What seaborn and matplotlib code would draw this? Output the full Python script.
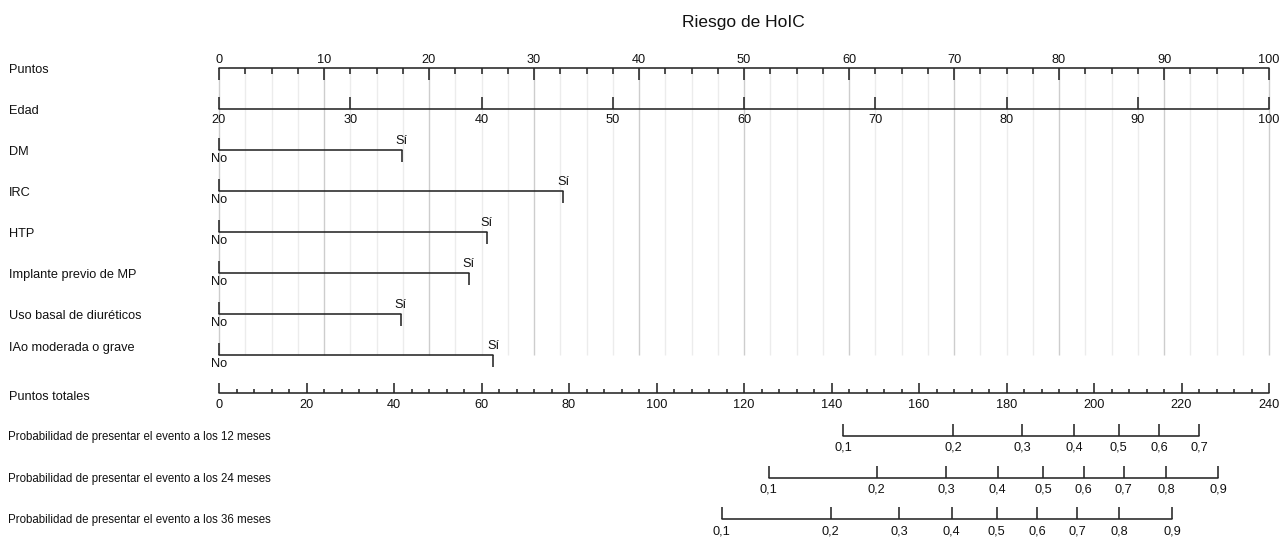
import numpy as np
import pandas as pd
import matplotlib
matplotlib.use("Agg")
import matplotlib.pyplot as plt
import seaborn as sns

# ---------------- data ----------------
title = "Riesgo de HoIC"
points_labels = [0, 10, 20, 30, 40, 50, 60, 70, 80, 90, 100]
points_minor_step = 2.5
age_labels = [20, 30, 40, 50, 60, 70, 80, 90, 100]
age_min, age_max = 20, 100
binary_vars = ["DM", "IRC", "HTP", "Implante previo de MP",
               "Uso basal de diuréticos", "IAo moderada o grave"]
binary_si_points = [17.4, 32.8, 25.5, 23.8, 17.3, 26.1]
total_labels = [0, 20, 40, 60, 80, 100, 120, 140, 160, 180, 200, 220, 240]
total_minor_step = 4
total_max = 240
prob_rows = ["Probabilidad de presentar el evento a los 12 meses",
             "Probabilidad de presentar el evento a los 24 meses",
             "Probabilidad de presentar el evento a los 36 meses"]
prob_12_labels = ["0,1", "0,2", "0,3", "0,4", "0,5", "0,6", "0,7"]
prob_12_total = [142.7, 167.8, 183.5, 195.4, 205.6, 214.9, 224.0]
prob_24_labels = ["0,1", "0,2", "0,3", "0,4", "0,5", "0,6", "0,7", "0,8", "0,9"]
prob_24_total = [125.6, 150.3, 166.2, 178.0, 188.4, 197.6, 206.8, 216.5, 228.4]
prob_36_labels = ["0,1", "0,2", "0,3", "0,4", "0,5", "0,6", "0,7", "0,8", "0,9"]
prob_36_total = [114.9, 139.8, 155.5, 167.5, 177.8, 187.0, 196.2, 205.8, 217.8]

# ---------------- style ----------------
sns.set_theme(style="white")
plt.rcParams["font.family"] = ["Liberation Sans", "DejaVu Sans"]

W, H, DPI = 1288, 537, 100
fig = plt.figure(figsize=(W / DPI, H / DPI), dpi=DPI)
ax = fig.add_axes([0, 0, 1, 1])
X0, X1 = 219.0, 1269.0          # pixel span of the 0..100 points scale
ppx = (X1 - X0) / 100.0

LC = "#262626"
TC = "#111111"
LW = 1.15
FS = 9.2
TICK = 12
lab_tf = ax.get_yaxis_transform()

def age_to_pts(a):
    return (np.asarray(a, float) - age_min) / (age_max - age_min) * 100.0

def tot_to_pts(t):
    return np.asarray(t, float) / total_max * 100.0

# row positions (pixels)
Y_PTS, Y_AGE = 68, 109
Y_BIN = [149.5, 190.5, 231.5, 272.5, 313.5, 354.5]
Y_TOT = 393
Y_PROB = [436, 478, 519]

# ---- gridlines ----
grid_vals = np.arange(0, 100 + 1e-9, points_minor_step)
for v in grid_vals:
    major = abs(v % 10) < 1e-9
    ax.vlines(v, Y_PTS, 355, color="#cdcdcd" if major else "#ececec",
              lw=1.0, zorder=0)

# ---- baselines via seaborn ----
segs = []
def add_seg(name, xa, xb, y):
    segs.append({"seg": name, "x": xa, "y": y})
    segs.append({"seg": name, "x": xb, "y": y})

add_seg("pts", 0, 100, Y_PTS)
add_seg("age", 0, 100, Y_AGE)
for name, sp, y in zip(binary_vars, binary_si_points, Y_BIN):
    add_seg(name, 0, sp, y)
add_seg("tot", 0, 100, Y_TOT)
for name, tl, y in zip(prob_rows, [prob_12_total, prob_24_total, prob_36_total], Y_PROB):
    p = tot_to_pts(tl)
    add_seg(name, p[0], p[-1], y)
df = pd.DataFrame(segs)
sns.lineplot(data=df, x="x", y="y", units="seg", estimator=None, sort=False,
             color=LC, lw=LW, ax=ax, legend=False)
ax.set_xlim(-X0 / ppx, (W - X0) / ppx)
ax.set_ylim(H, 0)
ax.axis("off")

# ---- Puntos ----
for v in grid_vals:
    major = abs(v % 10) < 1e-9
    ax.vlines(v, Y_PTS, Y_PTS + (TICK if major else 6), color=LC, lw=LW)
for v in points_labels:
    ax.text(v, Y_PTS - 8, str(v), ha="center", va="center", fontsize=FS, color=TC)

# ---- Edad ----
for a in age_labels:
    p = age_to_pts(a)
    ax.vlines(p, Y_AGE - TICK, Y_AGE, color=LC, lw=LW)
    ax.text(p, Y_AGE + 11, str(a), ha="center", va="center", fontsize=FS, color=TC)

# ---- binary ----
for name, sp, y in zip(binary_vars, binary_si_points, Y_BIN):
    ax.vlines(0, y - TICK, y, color=LC, lw=LW)
    ax.vlines(sp, y, y + TICK, color=LC, lw=LW)
    ax.text(sp, y - 8.5, "Sí", ha="center", va="center", fontsize=FS, color=TC)
    ax.text(0, y + 9.5, "No", ha="center", va="center", fontsize=FS, color=TC)

# ---- Puntos totales ----
for t in np.arange(0, total_max + 1e-9, total_minor_step):
    major = abs(t % 20) < 1e-9
    ax.vlines(tot_to_pts(t), Y_TOT - (10 if major else 4), Y_TOT, color=LC, lw=LW)
for t in total_labels:
    ax.text(tot_to_pts(t), Y_TOT + 12.5, str(t), ha="center", va="center",
            fontsize=FS, color=TC)

# ---- probabilities ----
for labs, tl, y in zip([prob_12_labels, prob_24_labels, prob_36_labels],
                       [prob_12_total, prob_24_total, prob_36_total], Y_PROB):
    for lab, t in zip(labs, tl):
        p = tot_to_pts(t)
        ax.vlines(p, y - TICK, y, color=LC, lw=LW)
        ax.text(p, y + 12, lab, ha="center", va="center", fontsize=FS, color=TC)

# ---- left labels ----
left_rows = ["Puntos", "Edad"] + binary_vars + ["Puntos totales"]
left_y = ([Y_PTS + 2, Y_AGE + 2] + [y + 2.5 for y in Y_BIN[:-1]] + [Y_BIN[-1] - 6]
          + [Y_TOT + 4])
for lab, y in zip(left_rows, left_y):
    ax.text(9 / W, y, lab, transform=lab_tf, ha="left", va="center",
            fontsize=FS, color=TC)
for lab, y in zip(prob_rows, Y_PROB):
    ax.text(8 / W, y + 1, lab, transform=lab_tf, ha="left", va="center",
            fontsize=8.3, color=TC)

# ---- title ----
ax.text(743 / W, 23, title, transform=lab_tf, ha="center", va="center",
        fontsize=12.5, color=TC)

fig.savefig("out.png", dpi=DPI)
